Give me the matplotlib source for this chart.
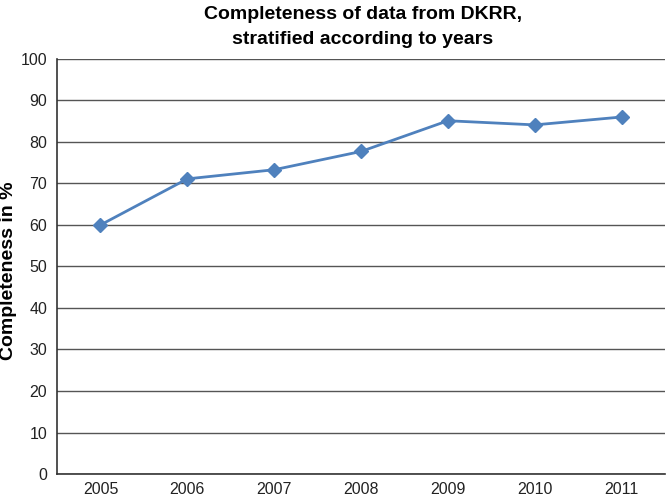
import matplotlib
matplotlib.use("Agg")
import matplotlib.pyplot as plt

years = ["2005", "2006", "2007", "2008", "2009", "2010", "2011"]
completeness = [60.0, 71.1, 73.3, 77.7, 85.1, 84.1, 86.0]

plt.rcParams["font.family"] = ["Liberation Sans", "DejaVu Sans"]

fig = plt.figure(figsize=(6.66, 4.99), dpi=100)
ax = fig.add_axes([0.0856, 0.050, 0.913, 0.832])

x = range(len(years))
ax.plot(x, completeness, color="#4F81BD", linewidth=2, marker="D",
        markersize=7, zorder=3)

ax.set_xlim(-0.5, len(years) - 0.5)
ax.set_ylim(0, 100)
ax.set_yticks(range(0, 101, 10))
ax.set_xticks(list(x))
ax.set_xticklabels(years)
ax.tick_params(axis="both", labelsize=11.5, colors="#222222")
ax.tick_params(axis="x", length=0, pad=6)
ax.tick_params(axis="y", length=0, pad=7)

ax.grid(axis="y", color="#555555", linewidth=1)
ax.set_axisbelow(True)
for s in ["top", "right"]:
    ax.spines[s].set_visible(False)
for s in ["left", "bottom"]:
    ax.spines[s].set_color("#333333")
    ax.spines[s].set_linewidth(1.2)

ax.set_ylabel("Completeness in %", fontsize=14, fontweight="bold")
ax.yaxis.set_label_coords(-0.065, 0.49)
fig.text(0.545, 0.987, "Completeness of data from DKRR,\nstratified according to years",
         ha="center", va="top", fontsize=14, fontweight="bold", linespacing=1.55)

fig.savefig("out.png", dpi=100)
